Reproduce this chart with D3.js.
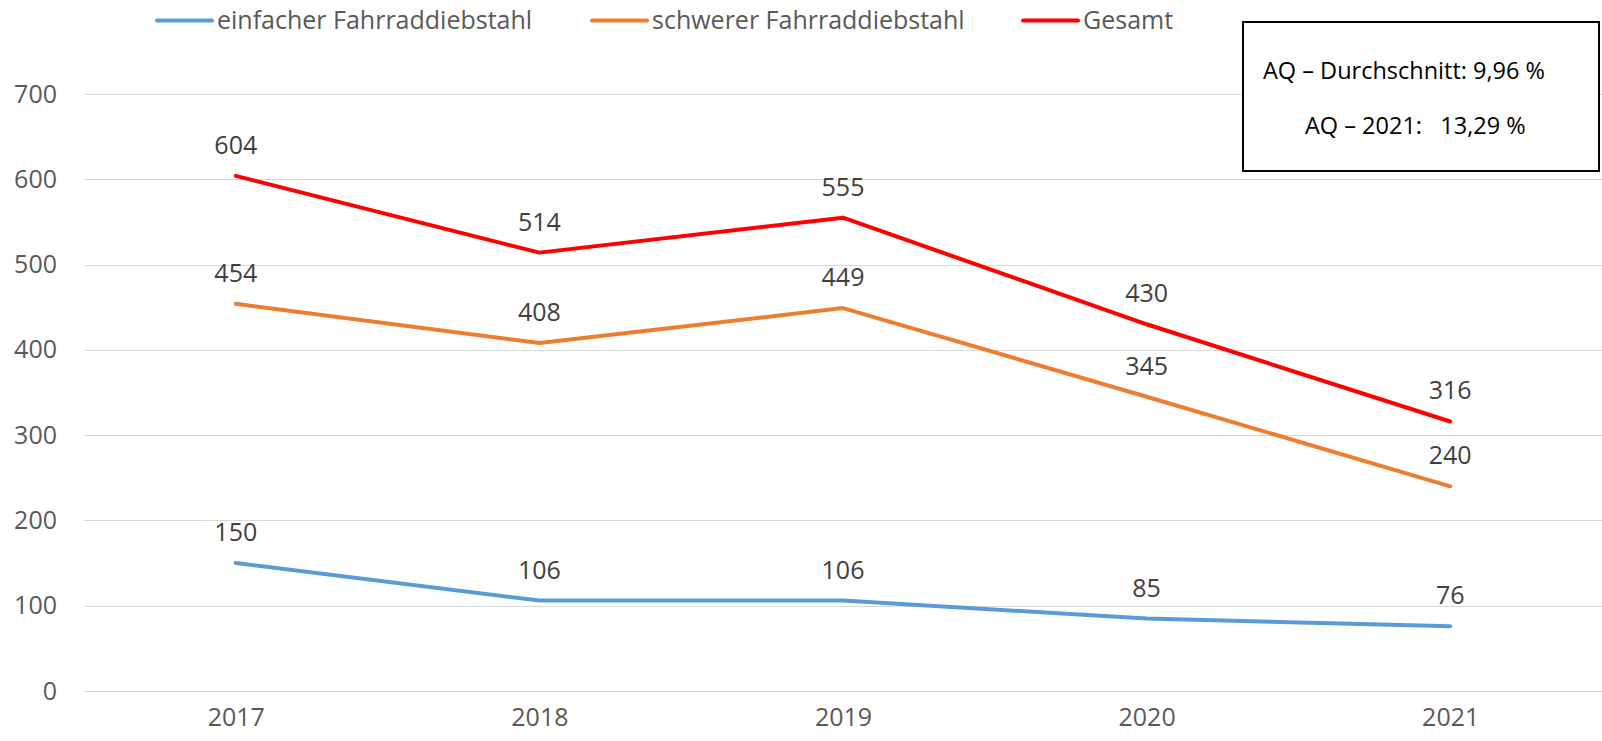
<!DOCTYPE html>
<html>
<head>
<meta charset="utf-8">
<script src="https://cdn.jsdelivr.net/npm/d3@7"></script>
<style>
  body { margin: 0; background: #fff; }
  text { font-family: "Open Sans", sans-serif; }
</style>
</head>
<body>
<div id="chart"></div>
<script>
var years = ["2017", "2018", "2019", "2020", "2021"];
var einfach = [150, 106, 106, 85, 76];
var schwer = [454, 408, 449, 345, 240];
var gesamt = [604, 514, 555, 430, 316];
var yTicks = [0, 100, 200, 300, 400, 500, 600, 700];
var seriesNames = ["einfacher Fahrraddiebstahl", "schwerer Fahrraddiebstahl", "Gesamt"];
var seriesColors = ["#5B9BD5", "#ED7D31", "#FF0000"];
var boxLines = ["AQ \u2013 Durchschnitt: 9,96 %", "AQ \u2013 2021:   13,29 %"];

var W = 1602, H = 741;
var margin = {top: 94, right: 0, bottom: 50, left: 84},
    width = W - margin.left - margin.right,
    height = H - margin.top - margin.bottom;

var svg = d3.select("#chart")
  .append("svg")
    .attr("width", W)
    .attr("height", H);

var g = svg.append("g")
    .attr("transform", "translate(" + margin.left + "," + margin.top + ")");

var x = d3.scalePoint()
  .domain(years)
  .range([0, width])
  .padding(0.5);

var y = d3.scaleLinear()
  .domain([0, 700])
  .range([height, 0]);

// gridlines
g.append("g")
  .selectAll("line")
  .data(yTicks)
  .enter()
  .append("line")
    .attr("x1", 0)
    .attr("x2", width)
    .attr("y1", d => Math.round(y(d)) + 0.5)
    .attr("y2", d => Math.round(y(d)) + 0.5)
    .attr("stroke", "#D9D9D9")
    .attr("stroke-width", 1);

// y axis labels
var yAxis = g.append("g")
  .call(d3.axisLeft(y).tickValues(yTicks).tickSize(0).tickPadding(27));
yAxis.select(".domain").remove();
yAxis.selectAll("text")
  .attr("fill", "#595959")
  .style("font-size", "25px")
  .style("font-family", "Open Sans");

// x axis labels
var xAxis = g.append("g")
  .attr("transform", "translate(0," + height + ")")
  .call(d3.axisBottom(x).tickSize(0).tickPadding(17));
xAxis.select(".domain").remove();
xAxis.selectAll("text")
  .attr("fill", "#595959")
  .style("font-size", "25px")
  .style("font-family", "Open Sans");

var line = d3.line()
  .x((d, i) => x(years[i]))
  .y(d => y(d));

var allSeries = [einfach, schwer, gesamt];

allSeries.forEach(function(vals, k) {
  g.append("path")
    .datum(vals)
    .attr("fill", "none")
    .attr("stroke", seriesColors[k])
    .attr("stroke-width", 4)
    .attr("stroke-linejoin", "round")
    .attr("stroke-linecap", "round")
    .attr("d", line);

  g.append("g")
    .selectAll("text")
    .data(vals)
    .enter()
    .append("text")
      .attr("x", (d, i) => x(years[i]))
      .attr("y", d => y(d) - 22)
      .attr("text-anchor", "middle")
      .attr("fill", "#404040")
      .style("font-size", "25px")
      .text(d => d);
});

// legend
var legendX = [157, 592, 1023];
var legend = svg.append("g");
seriesNames.forEach(function(name, k) {
  legend.append("line")
    .attr("x1", legendX[k])
    .attr("x2", legendX[k] + 55)
    .attr("y1", 20.5)
    .attr("y2", 20.5)
    .attr("stroke", seriesColors[k])
    .attr("stroke-width", 4)
    .attr("stroke-linecap", "round");
  legend.append("text")
    .attr("x", legendX[k] + 60)
    .attr("y", 29)
    .attr("fill", "#595959")
    .style("font-size", "25px")
    .text(name);
});

// AQ box
var box = svg.append("g");
box.append("rect")
  .attr("x", 1243)
  .attr("y", 22)
  .attr("width", 356)
  .attr("height", 149)
  .attr("fill", "#fff")
  .attr("stroke", "#000")
  .attr("stroke-width", 2);
box.append("text")
  .attr("x", 1263)
  .attr("y", 79)
  .attr("fill", "#000")
  .style("font-size", "23.5px")
  .text(boxLines[0]);
box.append("text")
  .attr("x", 1305)
  .attr("y", 134)
  .attr("fill", "#000")
  .style("font-size", "23.5px")
  .style("white-space", "pre")
  .attr("xml:space", "preserve")
  .text(boxLines[1]);
</script>
</body>
</html>
